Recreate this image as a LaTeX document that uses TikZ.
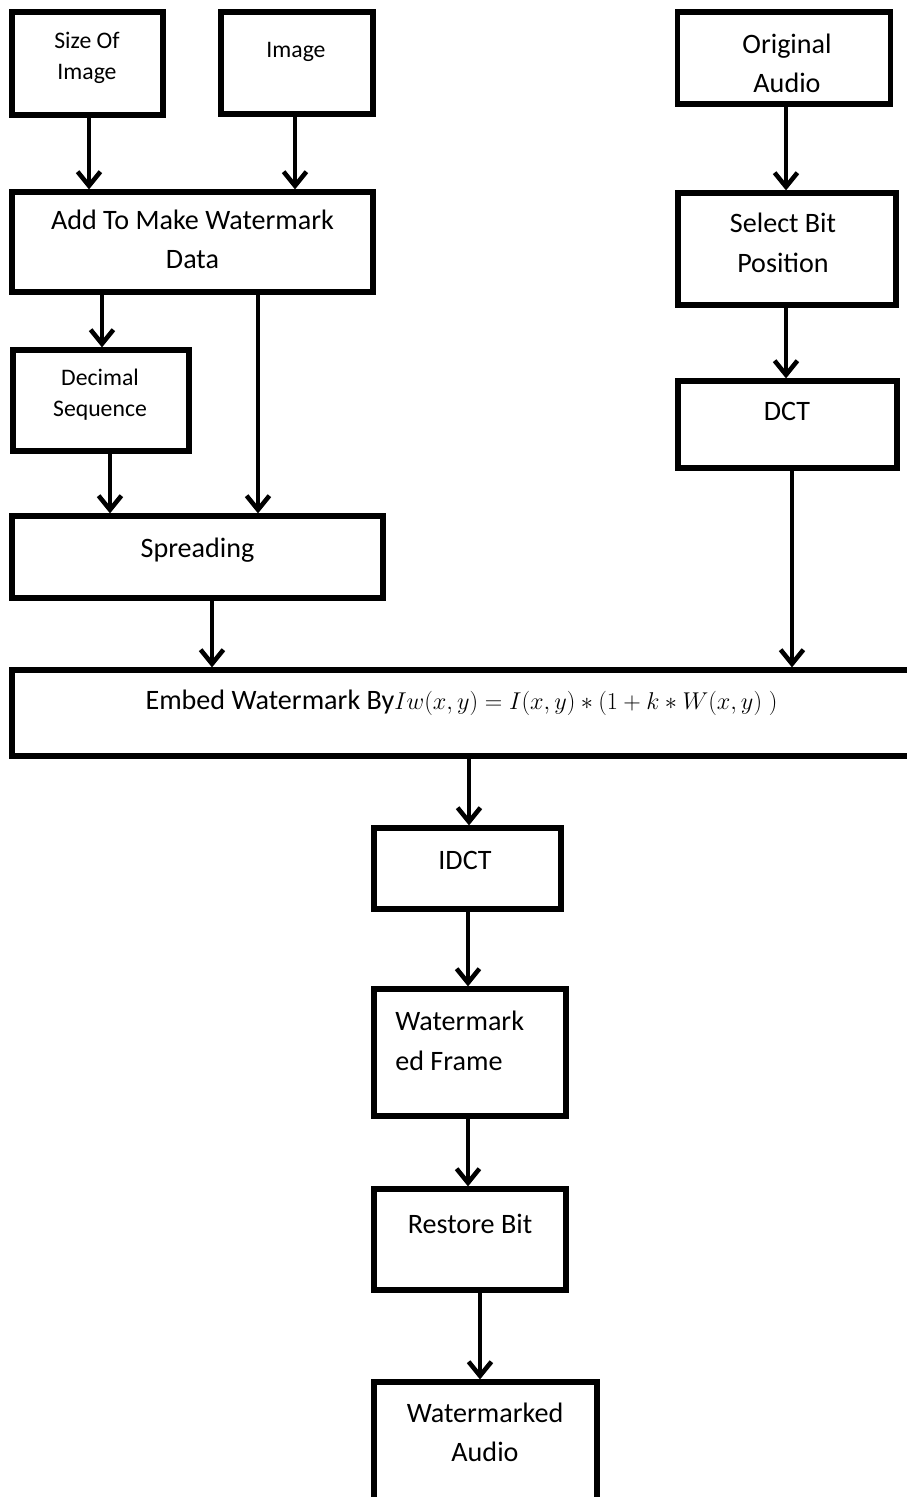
\documentclass[tikz,border=0pt]{standalone}
\usepackage{fontspec}
\setmainfont{Carlito}
\usetikzlibrary{arrows.meta}

\tikzset{
  blk/.style={draw, line width=3pt, fill=white, inner sep=0pt},
  big/.style={font=\fontsize{16}{22.5}\selectfont, align=center, inner sep=0pt},
  small/.style={font=\fontsize{13.5}{17.5}\selectfont, align=center, inner sep=0pt},
  arr/.style={line width=2.6pt, -{Straight Barb[length=8pt,width=13pt]}}
}

\begin{document}
\begin{tikzpicture}[x=0.02cm, y=-0.02cm]

\useasboundingbox (0,0) rectangle (906,1497);

% boxes: name/x/y/width/height (cm)
\foreach \n/\x/\y/\w/\h in {
	sizeimg/87.5/63.5/3.02/2.06,
	image/297/63/3.04/2.04,
	origaudio/784/58/4.26/1.84,
	addwm/192.5/242/7.22/2.0,
	selbit/787/249/4.36/2.24,
	decseq/101/400.5/3.52/2.02,
	dct/787.5/424.5/4.38/1.74,
	spread/197.5/557/7.42/1.64,
	embed/471/713/18.36/1.72,
	idct/467.5/868.5/3.74/1.62,
	wframe/470/1052.5/3.84/2.54,
	restore/470/1239.5/3.84/2.02,
	waudio/485.5/1461/4.46/3.16}
	\node[blk, minimum width=\w cm, minimum height=\h cm] (\n) at (\x, \y) {};

% texts
\node[small] (sizeimgtxt) at (87, 58) {Size Of\\Image};
\node[small] (imagetxt) at (296, 52) {Image};
\node[big] (origaudiotxt) at (787, 63.5) {Original\\Audio};
\node[big] (addwmtxt) at (192.5, 239.5) {Add To Make Watermark\\Data};
\node[big] (selbittxt) at (783, 243) {Select Bit\\Position};
\node[small] (decseqtxt) at (100, 394.5) {Decimal\\Sequence};
\node[big] (dcttxt) at (787, 411.5) {DCT};
\node[big] (spreadtxt) at (197.5, 550.5) {Spreading};
\node[big] (embedtxt) at (461.5, 702.5)
	{Embed Watermark By\scalebox{0.8}{$Iw(x,y) = I(x,y) * (1 + k * W(x,y)\;)$}};
\node[big] (idcttxt) at (465, 860.5) {IDCT};
\node[big, align=left, anchor=west] (wframetxt) at (395, 1041) {Watermark\\ed Frame};
\node[big] (restoretxt) at (470, 1224) {Restore Bit};
\node[big] (waudiotxt) at (485, 1432.5) {Watermarked\\Audio};

% connectors: from/to/x
\foreach \a/\b/\x in {
	sizeimg/addwm/89,
	image/addwm/295,
	origaudio/selbit/786,
	addwm/decseq/102,
	addwm/spread/258,
	selbit/dct/786,
	decseq/spread/110,
	spread/embed/212,
	dct/embed/792,
	embed/idct/469,
	idct/wframe/468,
	wframe/restore/468,
	restore/waudio/480}
	\draw[arr] (\x,0 |- \a.south) -- (\x,0 |- \b.north);

\end{tikzpicture}
\end{document}
